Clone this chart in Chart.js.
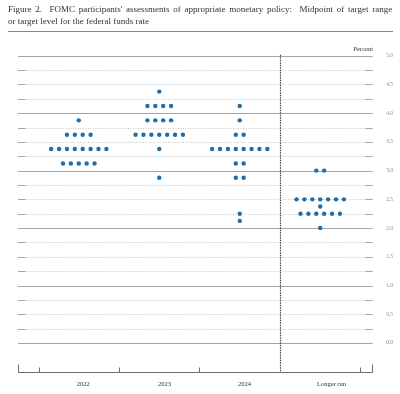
<!DOCTYPE html>
<html>
<head>
<meta charset="utf-8">
<script src="https://cdn.jsdelivr.net/npm/chart.js@4"></script>
<style>
  body { margin: 0; background: #fff; }
  #wrap { position: relative; width: 400px; height: 394px; }
  .title { position: absolute; left: 8px; font: 9px "Liberation Serif", "DejaVu Serif", serif; color: #333; white-space: nowrap; line-height: 12px; }
  #t1 { top: 2.7px; }
  #t2 { top: 14.7px; }
  #rule { position: absolute; left: 8px; width: 385px; top: 30.5px; height: 1.5px; background: #858585; }
  #unit { position: absolute; right: 27px; top: 45px; font: 6.5px "Liberation Serif", serif; color: #333; }
  canvas { position: absolute; left: 0; top: 0; }
</style>
</head>
<body>
<div id="wrap">
  <canvas id="chart" width="400" height="394"></canvas>
  <div class="title" id="t1">Figure 2.&nbsp; FOMC participants' assessments of appropriate monetary policy:&nbsp; Midpoint of target range</div>
  <div class="title" id="t2">or target level for the federal funds rate</div>
  <div id="rule"></div>
  <div id="unit">Percent</div>
</div>
<script>
// midpoint of target range, and number of participants at each level
const years = ['2022', '2023', '2024', 'Longer run'];

const rates2022 = [3.875, 3.625, 3.375, 3.125];
const counts2022 = [1, 4, 8, 5];

const rates2023 = [4.375, 4.125, 3.875, 3.625, 3.375, 2.875];
const counts2023 = [1, 4, 4, 7, 1, 1];

const rates2024 = [4.125, 3.875, 3.625, 3.375, 3.125, 2.875, 2.25, 2.125];
const counts2024 = [1, 1, 2, 8, 2, 2, 1, 1];

const ratesLonger = [3.0, 2.5, 2.375, 2.25, 2.0];
const countsLonger = [2, 7, 1, 6, 1];

const allRates = [rates2022, rates2023, rates2024, ratesLonger];
const allCounts = [counts2022, counts2023, counts2024, countsLonger];

// stretch first title line to the full width (justified like the original)
const t1 = document.getElementById('t1');
const gaps = t1.textContent.split(/[ \u00a0]/).length - 1;
t1.style.wordSpacing = ((384 - t1.scrollWidth) / gaps) + 'px';

// dots side by side around each category centre
const dotStep = 0.098;
const points = [];
allRates.forEach((rates, c) => {
  rates.forEach((r, i) => {
    const n = allCounts[c][i];
    for (let k = 0; k < n; k++) {
      points.push({ x: c + 1 + (k - (n - 1) / 2) * dotStep, y: r });
    }
  });
});

const labelSpots = [1.055, 2.065, 3.06, 4.14];

const gridPlugin = {
  id: 'fedGrid',
  beforeDatasetsDraw(chart) {
    const { ctx, chartArea: a, scales: { x, y } } = chart;
    ctx.save();
    ctx.lineWidth = 1;
    for (let q = 0; q <= 20; q++) {
      const v = q / 4;
      const py = Math.round(y.getPixelForValue(v)) + 0.5;
      if (q % 4 === 0) {
        ctx.setLineDash([]);
        ctx.strokeStyle = '#a3a3a3';
        ctx.beginPath(); ctx.moveTo(a.left, py); ctx.lineTo(a.right, py); ctx.stroke();
      } else {
        ctx.setLineDash([1, 1.5]);
        ctx.strokeStyle = '#c6c6c6';
        ctx.beginPath(); ctx.moveTo(a.left + 7.5, py); ctx.lineTo(a.right - 7.5, py); ctx.stroke();
        ctx.setLineDash([]);
        ctx.strokeStyle = '#a3a3a3';
        ctx.beginPath();
        ctx.moveTo(a.left, py); ctx.lineTo(a.left + 7.5, py);
        ctx.moveTo(a.right - 7.5, py); ctx.lineTo(a.right, py);
        ctx.stroke();
      }
    }
    // bottom axis with tick marks
    const by = Math.round(a.bottom) + 0.5;
    ctx.setLineDash([]);
    ctx.strokeStyle = '#6e6e6e';
    ctx.beginPath();
    ctx.moveTo(a.left, by); ctx.lineTo(a.right, by);
    ctx.moveTo(Math.round(a.left) + 0.5, by); ctx.lineTo(Math.round(a.left) + 0.5, by - 8);
    ctx.moveTo(Math.round(a.right) - 0.5, by); ctx.lineTo(Math.round(a.right) - 0.5, by - 8);
    [0.5, 1.5, 2.5, 4.5].forEach(v => {
      const px = Math.round(x.getPixelForValue(v)) + 0.5;
      ctx.moveTo(px, by); ctx.lineTo(px, by - 5);
    });
    ctx.stroke();
    // separator before longer run
    const sx = Math.round(x.getPixelForValue(3.5)) + 0.5;
    ctx.setLineDash([1.5, 1]);
    ctx.strokeStyle = '#444';
    ctx.lineWidth = 1.2;
    ctx.beginPath(); ctx.moveTo(sx, a.top - 1); ctx.lineTo(sx, by); ctx.stroke();
    ctx.restore();
  }
};

new Chart(document.getElementById('chart'), {
  type: 'scatter',
  data: {
    datasets: [{
      data: points,
      backgroundColor: '#1f6ea9',
      borderWidth: 0,
      pointRadius: 2.2,
      pointHoverRadius: 2.2
    }]
  },
  options: {
    responsive: false,
    animation: false,
    layout: { padding: { left: 18, top: 55.7, right: 0, bottom: 0 } },
    plugins: { legend: { display: false }, tooltip: { enabled: false } },
    scales: {
      x: {
        type: 'linear',
        min: 0.245,
        max: 4.652,
        grid: { display: false, drawTicks: false },
        border: { display: false },
        afterBuildTicks: s => { s.ticks = labelSpots.map(v => ({ value: v })); },
        afterFit: s => { s.height = 22.3; },
        ticks: {
          autoSkip: false,
          maxRotation: 0,
          padding: 8.4,
          color: '#333',
          font: { family: 'Liberation Serif', size: 6.5 },
          callback: (v, i) => years[i]
        }
      },
      y: {
        position: 'right',
        min: -0.5,
        max: 5,
        grid: { display: false, drawTicks: false },
        border: { display: false },
        afterBuildTicks: s => { s.ticks = s.ticks.filter(t => t.value >= 0); },
        afterFit: s => { s.width = 27.3; },
        ticks: {
          stepSize: 0.5,
          padding: 13.5,
          color: '#8a8a8a',
          font: { family: 'Liberation Serif', size: 5.5 },
          callback: v => v.toFixed(1)
        }
      }
    }
  },
  plugins: [gridPlugin]
});
</script>
</body>
</html>
